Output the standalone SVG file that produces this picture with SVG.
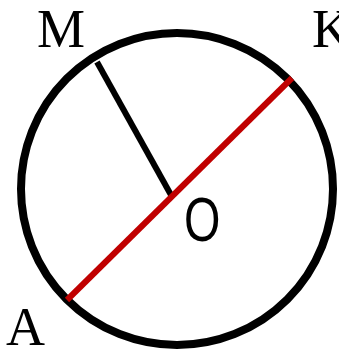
<svg xmlns="http://www.w3.org/2000/svg" width="339" height="353" viewBox="0 0 339 353">
<style>
.lbl{font-family:"Liberation Serif","Times New Roman",serif;font-size:54px;fill:#000}
.o{font-family:"Liberation Sans",Arial,sans-serif;font-size:60px;fill:#000}
</style>
<rect width="339" height="353" fill="#fff"/>
<g id="circle"><circle cx="177" cy="189" r="156" fill="none" stroke="#000" stroke-width="8"/></g>
<g id="connectors">
<line x1="97" y1="62" x2="171" y2="195" stroke="#000" stroke-width="6"/>
<line x1="67" y1="300" x2="292" y2="78" stroke="#c00000" stroke-width="6"/>
</g>
<g id="M"><text class="lbl" x="37" y="47">M</text></g>
<g id="K"><text class="lbl" x="312" y="47">K</text></g>
<g id="A"><text class="lbl" x="6" y="345">A</text></g>
<g id="O"><text class="o" transform="translate(184,241) scale(0.78,1.05)">O</text></g>
</svg>
